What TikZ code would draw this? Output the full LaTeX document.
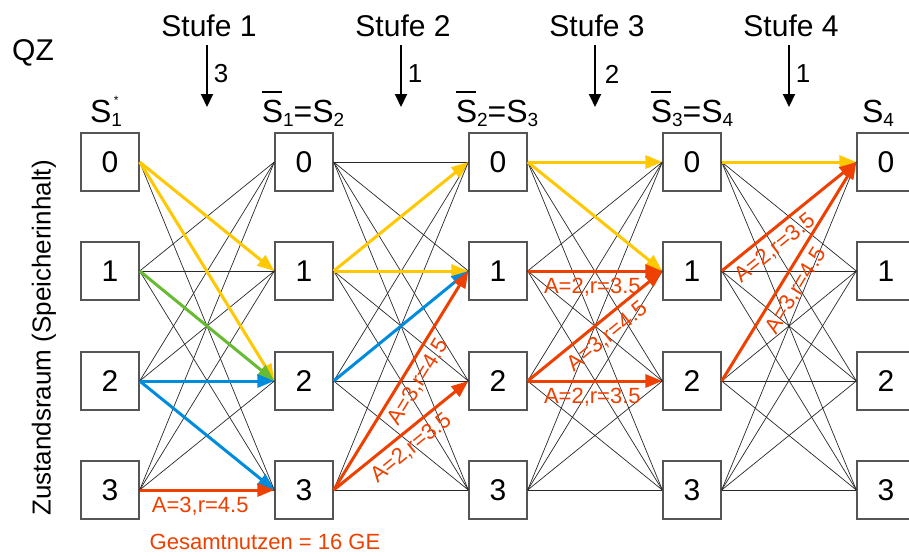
\documentclass[tikz,border=0pt]{standalone}
\usepackage{fontspec}
\setmainfont{Liberation Sans}
\usetikzlibrary{arrows.meta}

\definecolor{pathyellow}{RGB}{255,200,0}
\definecolor{pathgreen}{RGB}{102,187,51}
\definecolor{pathblue}{RGB}{0,140,222}
\definecolor{pathred}{RGB}{238,64,0}
\definecolor{boxgray}{RGB}{85,85,85}
\definecolor{linegray}{RGB}{40,40,40}

% state symbol with a bar, and a lowered subscript
\newcommand\Sover{\rlap{\rule[0.9em]{0.64em}{0.065em}}S}
\newcommand\Ssub[1]{\raisebox{-0.13em}{\fontsize{19}{20}\selectfont #1}}

\begin{document}
\begin{tikzpicture}[x=1pt,y=-1pt,
  state/.style={draw=boxgray, line width=1.3pt, fill=white, minimum size=58pt,
    inner sep=0pt, font=\fontsize{30}{34}\selectfont},
  trans/.style={draw=linegray, line width=0.7pt},
  best/.style={line width=3pt, -{Triangle[length=17pt,width=13pt]}},
  lbl/.style={text=pathred, font=\fontsize{22}{24}\selectfont, inner sep=5.5pt},
  hdr/.style={font=\fontsize{32}{36}\selectfont, inner sep=0pt},
  stage/.style={font=\fontsize{30}{34}\selectfont, inner sep=0pt},
  inflow/.style={font=\fontsize{26}{30}\selectfont, inner sep=0pt},
  qarrow/.style={draw=black, line width=2pt, -{Triangle[length=13pt,width=12pt]}}]

\useasboundingbox (0,0) rectangle (909,555);

% state boxes: five columns, storage contents 0..3
\foreach \c/\x in {1/110,2/304,3/498,4/692,5/886}
  \foreach \r/\y in {0/162,1/271,2/381,3/490}
    \node[state] (n\c\r) at (\x,\y) {\r};

% all feasible transitions
\foreach \i/\j in {0/1,0/2,0/3,1/0,1/1,1/2,1/3,2/0,2/1,2/2,2/3,3/0,3/1,3/2,3/3}
  \draw[trans] (n1\i.east) -- (n2\j.west);
\foreach \a/\b in {2/3,3/4,4/5}
  \foreach \i in {0,1,2,3}
    \foreach \j in {0,1,2,3}
      \draw[trans] (n\a\i.east) -- (n\b\j.west);

% stage 1
\draw[best, pathyellow] (n10.east) -- (n21.west);
\draw[best, pathyellow] (n10.east) -- (n22.west);
\draw[best, pathgreen] (n11.east) -- (n22.west);
\draw[best, pathblue] (n12.east) -- (n22.west);
\draw[best, pathblue] (n12.east) -- (n23.west);
\draw[best, pathred] (n13.east) -- node[lbl, below, pos=0.45] {A=3,r=4.5} (n23.west);

% stage 2
\draw[best, pathyellow] (n21.east) -- (n30.west);
\draw[best, pathyellow] (n21.east) -- (n31.west);
\draw[best, pathblue] (n22.east) -- (n31.west);
\draw[best, pathred] (n23.east) -- node[lbl, sloped, below, pos=0.53] {A=3,r=4.5} (n31.west);
\draw[best, pathred] (n23.east) -- node[lbl, sloped, below, pos=0.5] {A=2,r=3.5} (n32.west);

% stage 3
\draw[best, pathyellow] (n30.east) -- (n40.west);
\draw[best, pathyellow] (n30.east) -- (n41.west);
\draw[best, pathred] (n31.east) -- node[lbl, below, pos=0.48] {A=2,r=3.5} (n41.west);
\draw[best, pathred] (n32.east) -- node[lbl, sloped, below, pos=0.515] {A=3,r=4.5} (n41.west);
\draw[best, pathred] (n32.east) -- node[lbl, below, pos=0.48] {A=2,r=3.5} (n42.west);

% stage 4
\draw[best, pathyellow] (n40.east) -- (n50.west);
\draw[best, pathred] (n41.east) -- node[lbl, sloped, below, pos=0.32] {A=2,r=3.5} (n50.west);
\draw[best, pathred] (n42.east) -- node[lbl, sloped, below, pos=0.45] {A=3,r=4.5} (n50.west);

% column headings
\node[hdr, anchor=base] (h1) at (106,122)
  {S\Ssub{\rlap{\raisebox{1.15em}{\fontsize{12}{12}\selectfont\hspace{0.2em}*}}1}};
\node[hdr, anchor=base] (h2) at (303,122) {\Sover\Ssub{1}=S\Ssub{2}};
\node[hdr, anchor=base] (h3) at (497,122) {\Sover\Ssub{2}=S\Ssub{3}};
\node[hdr, anchor=base] (h4) at (692,122) {\Sover\Ssub{3}=S\Ssub{4}};
\node[hdr, anchor=base] (h5) at (878,122) {S\Ssub{4}};

% stages with their inflows
\node[stage] (qz) at (33,53) {QZ};
\foreach \k/\x/\lx/\q in {1/207/221/3, 2/401/415/1, 3/595/612/2, 4/789/803/1} {
  \node[stage] (st\k) at (\x+2,26) {Stufe \k};
  \coordinate (qs\k) at (\x,45);
  \coordinate (qe\k) at (\x,107);
  \draw[qarrow] (qs\k) -- (qe\k);
  \node[inflow] (ql\k) at (\lx,74) {\q};
}

% axis caption and total
\node[font=\fontsize{26}{30}\selectfont, rotate=90, inner sep=0pt] (axis) at (44,338)
  {Zustandsraum (Speicherinhalt)};
\node[lbl, inner sep=0pt] (total) at (265,542) {Gesamtnutzen = 16 GE};

\end{tikzpicture}
\end{document}
